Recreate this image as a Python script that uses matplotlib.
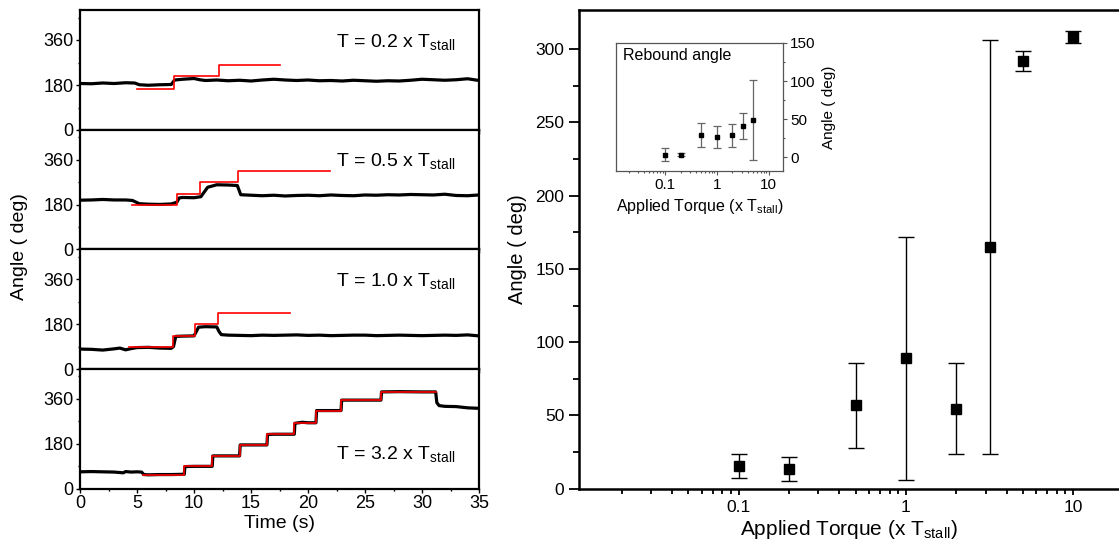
#!/usr/bin/env python3
"""Stepping traces for four applied torques, with the final angle and the rebound angle."""

import numpy as np
import matplotlib.pyplot as plt
from matplotlib.ticker import MultipleLocator, LogLocator, NullFormatter, FixedLocator

plt.rcParams['font.family'] = ['Liberation Sans', 'DejaVu Sans']
plt.rcParams['mathtext.fontset'] = 'custom'
plt.rcParams['mathtext.rm'] = 'Liberation Sans'

# ---- left: angle vs time traces (black = measured, red = commanded steps)
labels = ["0.2", "0.5", "1.0", "3.2"]

t1 = [0, 1, 2, 3, 4, 4.8, 5.2, 6, 7, 8, 8.3, 9, 10, 10.5, 11, 12, 13, 14, 15, 16, 17, 18,
      19, 20, 21, 22, 23, 24, 25, 26, 27, 28, 29, 30, 31, 32, 33, 34, 35]
a1 = [186, 185, 188, 186, 189, 188, 181, 179, 181, 182, 200, 203, 206, 201, 198, 200, 197,
      199, 196, 200, 203, 200, 198, 200, 197, 198, 196, 199, 197, 195, 197, 196, 199, 203,
      201, 199, 201, 205, 198]

t2 = [0, 1, 2, 3, 4, 4.6, 5.2, 6, 7, 8, 8.5, 8.7, 9, 10, 10.6, 11.2, 12, 13, 13.8, 14.1, 15,
      16, 17, 18, 19, 20, 21, 22, 23, 24, 25, 26, 27, 28, 29, 30, 31, 32, 33, 34, 35]
a2 = [198, 199, 201, 199, 199, 197, 184, 182, 181, 183, 190, 207, 209, 208, 212, 250, 260,
      259, 257, 220, 218, 216, 218, 215, 217, 218, 216, 219, 217, 216, 219, 218, 220, 219,
      221, 220, 219, 222, 217, 216, 219]

t3 = [0, 1, 2, 3, 3.5, 4, 4.5, 5, 6, 7, 8, 8.2, 8.4, 9, 10, 10.2, 10.4, 11, 12, 12.2, 12.4,
      13, 14, 15, 16, 17, 18, 19, 20, 21, 22, 23, 24, 25, 26, 27, 28, 29, 30, 31, 32, 33,
      34, 35]
a3 = [80, 79, 76, 81, 84, 77, 82, 86, 87, 84, 83, 90, 131, 132, 133, 150, 168, 170, 169,
      150, 138, 136, 135, 134, 136, 135, 136, 137, 135, 136, 134, 135, 136, 136, 134, 135,
      136, 135, 134, 135, 136, 135, 137, 133]

t4 = [0, 1, 2, 3, 3.8, 4, 4.5, 5, 5.4, 5.6, 6, 7, 8, 9, 9.15, 9.2, 10, 11, 11.6, 11.65, 12,
      13, 14, 14.05, 15, 16, 16.4, 16.45, 17, 18, 18.8, 18.85, 19.5, 20, 20.7, 20.75, 22,
      22.9, 22.95, 24, 26.4, 26.45, 28, 30, 31.2, 31.3, 31.5, 32, 33, 34, 35]
a4 = [67, 68, 67, 66, 63, 68, 66, 67, 66, 56, 55, 56, 56, 57, 57, 88, 89, 89, 89, 131, 131,
      131, 131, 175, 175, 175, 175, 217, 218, 218, 218, 262, 266, 264, 264, 313, 313, 313,
      355, 355, 355, 388, 389, 388, 388, 345, 333, 330, 329, 324, 322]

traces_t = [t1, t2, t3, t4]
traces_a = [a1, a2, a3, a4]

# commanded steps: edge times and the level between consecutive edges
step_t = [[4.97, 8.27, 12.2, 17.5],
          [4.6, 8.5, 10.5, 13.9, 21.9],
          [4.3, 8.2, 10.1, 12.1, 18.4],
          [5.5, 9.15, 11.6, 14.0, 16.4, 18.8, 20.7, 22.9, 26.4, 31.2]]
step_a = [[165, 215, 262],
          [179, 224, 270, 315],
          [87, 134, 179, 224],
          [56, 89, 131, 175, 218, 264, 313, 355, 388]]

# ---- right: final angle vs applied torque
torque = [0.1, 0.2, 0.5, 1, 2, 3.2, 5, 10]
angle = [15.5, 13.4, 57, 89, 54.5, 165, 292, 308]
angle_err = [8, 8, 29, 83, 31, 141, 7, 4]

# inset: rebound angle
rb_torque = [0.1, 0.2, 0.5, 1, 2, 3.2, 5]
rb_angle = [3.5, 3.5, 29, 27, 29, 41, 49]
rb_err = [8.5, 2, 15.5, 14.7, 15, 17, 52]

W, H = 1119, 546
fig = plt.figure(figsize=(W / 100, H / 100), dpi=100)


def frac(x0, y0, x1, y1):
    """pixel box (left, top, right, bottom) -> figure fraction rect"""
    return [x0 / W, 1 - y1 / H, (x1 - x0) / W, (y1 - y0) / H]


panel_px = [(10, 130), (130, 249.5), (249.5, 369), (369, 488.5)]
for i in range(4):
    ax = fig.add_axes(frac(80, panel_px[i][0], 479, panel_px[i][1]))
    ax.plot(traces_t[i], traces_a[i], color='black', lw=2.3, solid_joinstyle='round')
    xs = step_t[i]
    ys = step_a[i] + [step_a[i][-1]]
    ax.step(xs, ys, where='post', color='red', lw=1.2)
    ax.set_xlim(0, 35)
    ax.set_ylim(0, 480)
    ax.yaxis.set_major_locator(MultipleLocator(180))
    ax.yaxis.set_minor_locator(MultipleLocator(90))
    ax.xaxis.set_major_locator(MultipleLocator(5))
    ax.xaxis.set_minor_locator(MultipleLocator(2.5))
    ax.tick_params(which='major', direction='out', length=3, width=1, labelsize=13,
                   top=False, right=False, pad=1.5)
    ax.tick_params(which='minor', direction='out', length=1.5, width=1, top=False, right=False)
    for s in ax.spines.values():
        s.set_linewidth(1.6)
    if i < 3:
        ax.tick_params(labelbottom=False)
    else:
        ax.set_xlabel("Time (s)", fontsize=14, labelpad=2)
    txt = r"T = " + labels[i] + r" x T$_{\mathregular{stall}}$"
    ty = 0.73 if i < 3 else 0.28
    ax.text(0.94, ty, txt, transform=ax.transAxes, ha='right', va='center', fontsize=14)

fig.text(20 / W, 1 - 247 / H, "Angle ( deg)", rotation=90, ha='center', va='center', fontsize=14)

# main plot
ax = fig.add_axes(frac(579, 9.5, 1119, 488.7))
ax.errorbar(torque, angle, yerr=angle_err, fmt='s', color='black', ms=6.5,
            elinewidth=1, capsize=5.5, capthick=1)
ax.set_xscale('log')
ax.set_xlim(0.0111, 18.8)
ax.set_ylim(0, 327)
ax.yaxis.set_major_locator(MultipleLocator(50))
ax.yaxis.set_minor_locator(FixedLocator([25, 75, 125, 175, 225, 275]))
ax.xaxis.set_minor_locator(LogLocator(base=10, subs=np.arange(2, 10)))
ax.xaxis.set_minor_formatter(NullFormatter())
ax.set_xticks([0.1, 1, 10])
ax.set_xticklabels(["0.1", "1", "10"])
ax.spines['right'].set_visible(False)
for s in ['left', 'bottom', 'top']:
    ax.spines[s].set_linewidth(1.8)
ax.tick_params(axis='y', which='major', direction='out', length=7, width=1.3, labelsize=12.5)
ax.tick_params(axis='y', which='minor', direction='out', length=4, width=1.3)
ax.tick_params(axis='x', which='major', direction='out', length=4.5, width=1.3, labelsize=12.5)
ax.tick_params(axis='x', which='minor', direction='out', length=3.5, width=1.3)
ax.set_xlabel(r"Applied Torque (x T$_{\mathregular{stall}}$)", fontsize=15, labelpad=2)
ax.set_ylabel("Angle ( deg)", fontsize=14.5, labelpad=6)

# inset
ins = fig.add_axes(frac(616, 43, 783, 171))
ins.errorbar(rb_torque, rb_angle, yerr=rb_err, fmt='s', color='black', ms=2.8,
             ecolor='#666666', elinewidth=0.9, capsize=3, capthick=0.9)
ins.set_xscale('log')
ins.set_xlim(0.0114, 18.8)
ins.set_ylim(-18, 150)
ins.set_xticks([0.1, 1, 10])
ins.set_xticklabels(["0.1", "1", "10"])
ins.xaxis.set_minor_locator(LogLocator(base=10, subs=np.arange(2, 10)))
ins.xaxis.set_minor_formatter(NullFormatter())
ins.yaxis.tick_right()
ins.yaxis.set_label_position('right')
ins.yaxis.set_major_locator(MultipleLocator(50))
ins.yaxis.set_minor_locator(MultipleLocator(25))
for s in ins.spines.values():
    s.set_linewidth(0.9)
    s.set_color('#555555')
ins.tick_params(which='major', direction='out', length=3, width=0.8, labelsize=11,
                colors='#555555', labelcolor='black', pad=2)
ins.tick_params(which='minor', direction='out', length=1.5, width=0.8, colors='#555555')
ins.set_xlabel(r"Applied Torque (x T$_{\mathregular{stall}}$)", fontsize=11.5, labelpad=4)
ins.set_ylabel("Angle ( deg)", fontsize=11, labelpad=5)
ins.text(0.04, 0.9, "Rebound angle", transform=ins.transAxes, ha='left', va='center',
         fontsize=11.5)

fig.savefig("out.png", dpi=100)
